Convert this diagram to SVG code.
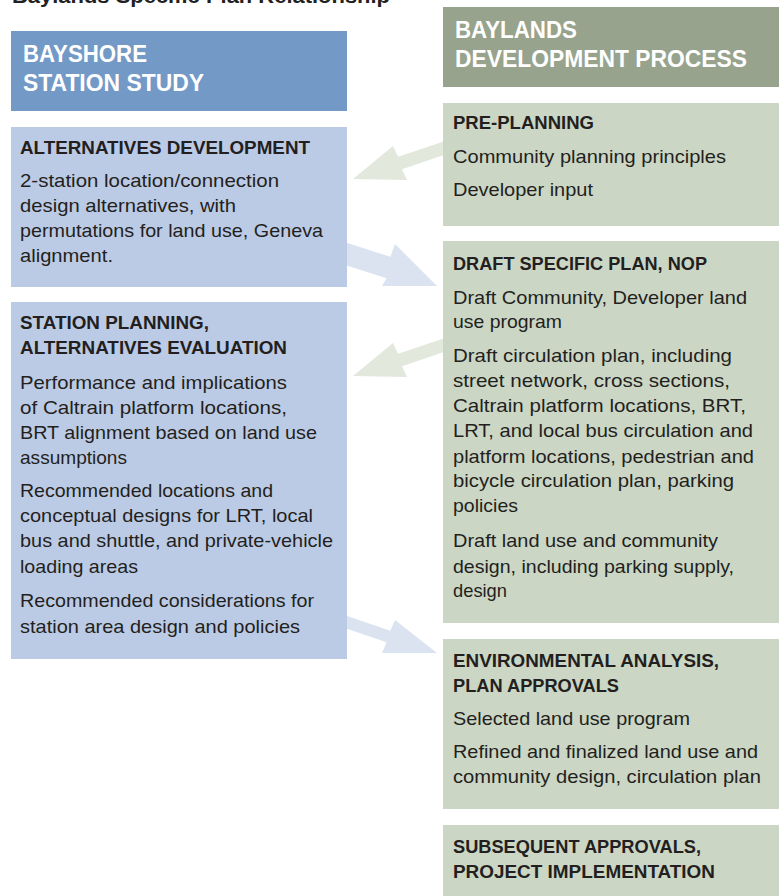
<svg xmlns="http://www.w3.org/2000/svg" width="779" height="896" viewBox="0 0 779 896">
<style>
text{font-family:"Liberation Sans",Arial,sans-serif;fill:#231f20}
.t{font-size:20px;font-weight:bold}
.hw{font-size:23px;font-weight:bold;fill:#ffffff}
.h{font-size:18px;font-weight:bold}
.b{font-size:19px}
.lh{fill:#7399c6}
.lb{fill:#bccbe5}
.rh{fill:#97a38c}
.rb{fill:#cbd6c5}
.ga{fill:#e3e8dd}
.ba{fill:#dbe3f1}
</style>
<rect width="779" height="896" fill="#ffffff"/>
<text class="t" x="12" y="3" textLength="378" lengthAdjust="spacingAndGlyphs">Baylands Specific Plan Relationship</text>

<g id="connectors">
<polygon class="ga" points="448,140 398,156.8 393,146 353,179 407,180 402,169.2 452,152.2"/>
<polygon class="ba" points="342,241.3 390.4,256.8 395,244 437,286 382,286 386.6,278.2 338,262.7"/>
<polygon class="ga" points="448,337 398,353.8 393,343 353,376 407,377 402,366.2 452,349.2"/>
<polygon class="ba" points="342,614.3 390.4,630.8 395,620 437,653 382,653 386.6,642.2 338,625.7"/>
</g>

<g id="bayshore-header">
<rect class="lh" x="11" y="31" width="336" height="80"/>
<text class="hw" x="23" y="62" textLength="124" lengthAdjust="spacingAndGlyphs">BAYSHORE</text>
<text class="hw" x="23" y="91" textLength="181" lengthAdjust="spacingAndGlyphs">STATION STUDY</text>
</g>

<g id="baylands-header">
<rect class="rh" x="443" y="7" width="336" height="80"/>
<text class="hw" x="455" y="38" textLength="122" lengthAdjust="spacingAndGlyphs">BAYLANDS</text>
<text class="hw" x="455" y="67" textLength="292" lengthAdjust="spacingAndGlyphs">DEVELOPMENT PROCESS</text>
</g>

<g id="alternatives-development">
<rect class="lb" x="11" y="127" width="336" height="160"/>
<text class="h" x="20" y="154" textLength="290" lengthAdjust="spacingAndGlyphs">ALTERNATIVES DEVELOPMENT</text>
<text class="b" x="20" y="187" textLength="259" lengthAdjust="spacingAndGlyphs">2-station location/connection</text>
<text class="b" x="20" y="212" textLength="216" lengthAdjust="spacingAndGlyphs">design alternatives, with</text>
<text class="b" x="20" y="237" textLength="303" lengthAdjust="spacingAndGlyphs">permutations for land use, Geneva</text>
<text class="b" x="20" y="262" textLength="93" lengthAdjust="spacingAndGlyphs">alignment.</text>
</g>

<g id="station-planning">
<rect class="lb" x="11" y="302" width="336" height="357"/>
<text class="h" x="20" y="329" textLength="189" lengthAdjust="spacingAndGlyphs">STATION PLANNING,</text>
<text class="h" x="20" y="354" textLength="267" lengthAdjust="spacingAndGlyphs">ALTERNATIVES EVALUATION</text>
<text class="b" x="20" y="389" textLength="267" lengthAdjust="spacingAndGlyphs">Performance and implications</text>
<text class="b" x="20" y="414" textLength="267" lengthAdjust="spacingAndGlyphs">of Caltrain platform locations,</text>
<text class="b" x="20" y="439" textLength="297" lengthAdjust="spacingAndGlyphs">BRT alignment based on land use</text>
<text class="b" x="20" y="464" textLength="107" lengthAdjust="spacingAndGlyphs">assumptions</text>
<text class="b" x="20" y="497" textLength="253" lengthAdjust="spacingAndGlyphs">Recommended locations and</text>
<text class="b" x="20" y="522" textLength="293" lengthAdjust="spacingAndGlyphs">conceptual designs for LRT, local</text>
<text class="b" x="20" y="547" textLength="313" lengthAdjust="spacingAndGlyphs">bus and shuttle, and private-vehicle</text>
<text class="b" x="20" y="573" textLength="118" lengthAdjust="spacingAndGlyphs">loading areas</text>
<text class="b" x="20" y="607" textLength="294" lengthAdjust="spacingAndGlyphs">Recommended considerations for</text>
<text class="b" x="20" y="633" textLength="280" lengthAdjust="spacingAndGlyphs">station area design and policies</text>
</g>

<g id="pre-planning">
<rect class="rb" x="443" y="103" width="336" height="123"/>
<text class="h" x="453" y="129" textLength="141" lengthAdjust="spacingAndGlyphs">PRE-PLANNING</text>
<text class="b" x="453" y="163" textLength="273" lengthAdjust="spacingAndGlyphs">Community planning principles</text>
<text class="b" x="453" y="196" textLength="140" lengthAdjust="spacingAndGlyphs">Developer input</text>
</g>

<g id="draft-specific-plan">
<rect class="rb" x="443" y="241" width="336" height="382"/>
<text class="h" x="453" y="270" textLength="254" lengthAdjust="spacingAndGlyphs">DRAFT SPECIFIC PLAN, NOP</text>
<text class="b" x="453" y="304" textLength="294" lengthAdjust="spacingAndGlyphs">Draft Community, Developer land</text>
<text class="b" x="453" y="328" textLength="109" lengthAdjust="spacingAndGlyphs">use program</text>
<text class="b" x="453" y="362" textLength="279" lengthAdjust="spacingAndGlyphs">Draft circulation plan, including</text>
<text class="b" x="453" y="387" textLength="277" lengthAdjust="spacingAndGlyphs">street network, cross sections,</text>
<text class="b" x="453" y="412" textLength="293" lengthAdjust="spacingAndGlyphs">Caltrain platform locations, BRT,</text>
<text class="b" x="453" y="437" textLength="300" lengthAdjust="spacingAndGlyphs">LRT, and local bus circulation and</text>
<text class="b" x="453" y="463" textLength="301" lengthAdjust="spacingAndGlyphs">platform locations, pedestrian and</text>
<text class="b" x="453" y="487" textLength="281" lengthAdjust="spacingAndGlyphs">bicycle circulation plan, parking</text>
<text class="b" x="453" y="512" textLength="65" lengthAdjust="spacingAndGlyphs">policies</text>
<text class="b" x="453" y="547" textLength="265" lengthAdjust="spacingAndGlyphs">Draft land use and community</text>
<text class="b" x="453" y="573" textLength="281" lengthAdjust="spacingAndGlyphs">design, including parking supply,</text>
<text class="b" x="453" y="597" textLength="54" lengthAdjust="spacingAndGlyphs">design</text>
</g>

<g id="environmental-analysis">
<rect class="rb" x="443" y="639" width="336" height="170"/>
<text class="h" x="453" y="667" textLength="266" lengthAdjust="spacingAndGlyphs">ENVIRONMENTAL ANALYSIS,</text>
<text class="h" x="453" y="692" textLength="166" lengthAdjust="spacingAndGlyphs">PLAN APPROVALS</text>
<text class="b" x="453" y="725" textLength="237" lengthAdjust="spacingAndGlyphs">Selected land use program</text>
<text class="b" x="453" y="758" textLength="305" lengthAdjust="spacingAndGlyphs">Refined and finalized land use and</text>
<text class="b" x="453" y="783" textLength="308" lengthAdjust="spacingAndGlyphs">community design, circulation plan</text>
</g>

<g id="subsequent-approvals">
<rect class="rb" x="443" y="825" width="336" height="71"/>
<text class="h" x="453" y="853" textLength="248" lengthAdjust="spacingAndGlyphs">SUBSEQUENT APPROVALS,</text>
<text class="h" x="453" y="878" textLength="262" lengthAdjust="spacingAndGlyphs">PROJECT IMPLEMENTATION</text>
</g>
</svg>
